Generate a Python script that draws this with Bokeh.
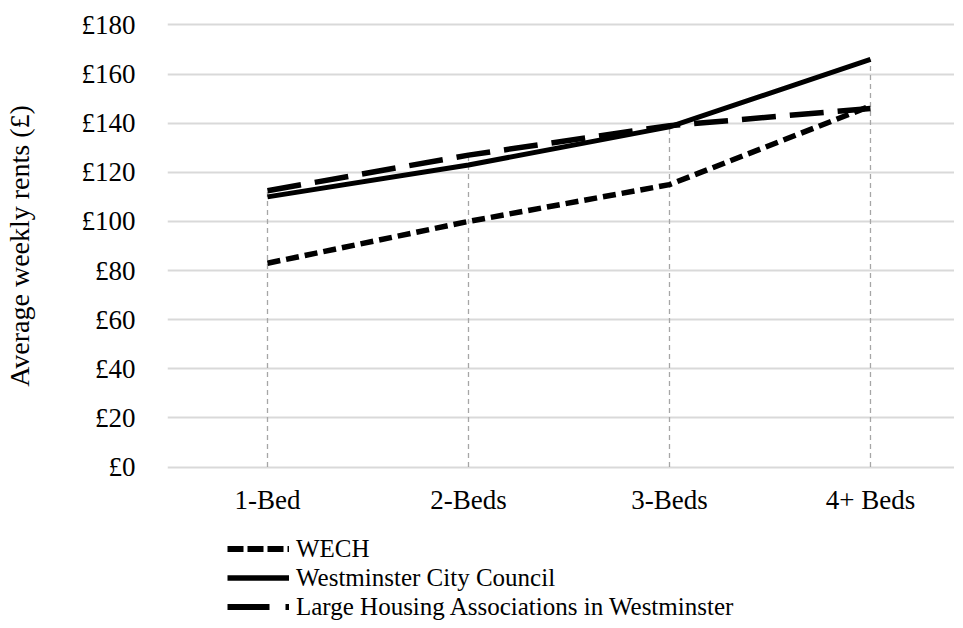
from bokeh.plotting import figure
from bokeh.models import Range1d, FixedTicker, Legend, LegendItem
from bokeh.layouts import column
from bokeh.embed import file_html
from bokeh.resources import INLINE

categories = ["1-Bed", "2-Beds", "3-Beds", "4+ Beds"]
wech = [83, 100, 115, 147]
wcc = [110, 123, 138.5, 166]
lha = [112.5, 127, 139, 146]
y_ticks = [0, 20, 40, 60, 80, 100, 120, 140, 160, 180]
y_tick_labels = ["£0", "£20", "£40", "£60", "£80", "£100", "£120", "£140", "£160", "£180"]
series_names = ["WECH", "Westminster City Council", "Large Housing Associations in Westminster"]

FONT = "Liberation Serif"
xs = list(range(len(categories)))

p = figure(frame_width=787, frame_height=447, output_backend="svg", toolbar_location=None,
           x_range=Range1d(-0.4975, 3.418), y_range=Range1d(-1, 181),
           min_border_left=160, min_border_right=0, min_border_top=22, min_border_bottom=65)
p.outline_line_color = None
p.background_fill_color = "white"
p.border_fill_color = "white"

p.xgrid.grid_line_color = None
p.ygrid.grid_line_color = "#d9d9d9"
p.ygrid.grid_line_width = 2
p.yaxis.ticker = FixedTicker(ticks=y_ticks)
p.yaxis.major_label_overrides = {t: l for t, l in zip(y_ticks, y_tick_labels)}
p.xaxis.ticker = FixedTicker(ticks=xs)
p.xaxis.major_label_overrides = {i: c for i, c in zip(xs, categories)}

for ax in (p.xaxis[0], p.yaxis[0]):
    ax.axis_line_color = None
    ax.major_tick_line_color = None
    ax.minor_tick_line_color = None
    ax.major_label_text_font = FONT
    ax.major_label_text_font_size = "27px"
    ax.major_label_text_color = "#000000"
p.yaxis.major_label_standoff = 26
p.xaxis.major_label_standoff = 9
p.yaxis.axis_label = "Average weekly rents (£)"
p.yaxis.axis_label_text_font = FONT
p.yaxis.axis_label_text_font_size = "28px"
p.yaxis.axis_label_text_font_style = "normal"
p.yaxis.axis_label_text_color = "#000000"
p.yaxis.axis_label_standoff = 44

# drop lines
tops = [max(a, b, c) for a, b, c in zip(wech, wcc, lha)]
p.segment(x0=xs, y0=[0] * len(xs), x1=xs, y1=tops, line_color="#a6a6a6",
          line_width=1.3, line_dash="5 4")

p.line(xs, wech, line_color="black", line_width=5.5, line_dash="13 6")
p.line(xs, wcc, line_color="black", line_width=5, line_join="round")
p.line(xs, lha, line_color="black", line_width=5.5, line_dash="34 14")

# legend strip below the chart (its lines fall outside its own ranges; only the legend shows)
lg = figure(width=947, height=87, output_backend="svg", toolbar_location=None,
            x_range=Range1d(0, 1), y_range=Range1d(0, 1),
            min_border_left=0, min_border_right=0, min_border_top=0, min_border_bottom=0)
lg.axis.visible = False
lg.grid.grid_line_color = None
lg.outline_line_color = None
l1 = lg.line(xs, wech, line_color="black", line_width=6, line_dash="16 4")
l2 = lg.line(xs, wcc, line_color="black", line_width=5.5)
l3 = lg.line(xs, lha, line_color="black", line_width=6, line_dash="42 16")

legend = Legend(items=[LegendItem(label=n, renderers=[r]) for n, r in zip(series_names, [l1, l2, l3])],
                location=(60, 0), orientation="vertical")
legend.border_line_color = None
legend.background_fill_alpha = 0
legend.padding = 0
legend.margin = 0
legend.spacing = 0
legend.label_height = 29
legend.glyph_height = 29
legend.glyph_width = 62
legend.label_standoff = 7
legend.label_text_font = FONT
legend.label_text_font_size = "25px"
legend.label_text_color = "#000000"
lg.add_layout(legend, "center")

layout = column(p, lg, spacing=0)
open("out.html", "w").write(file_html(layout, INLINE))
